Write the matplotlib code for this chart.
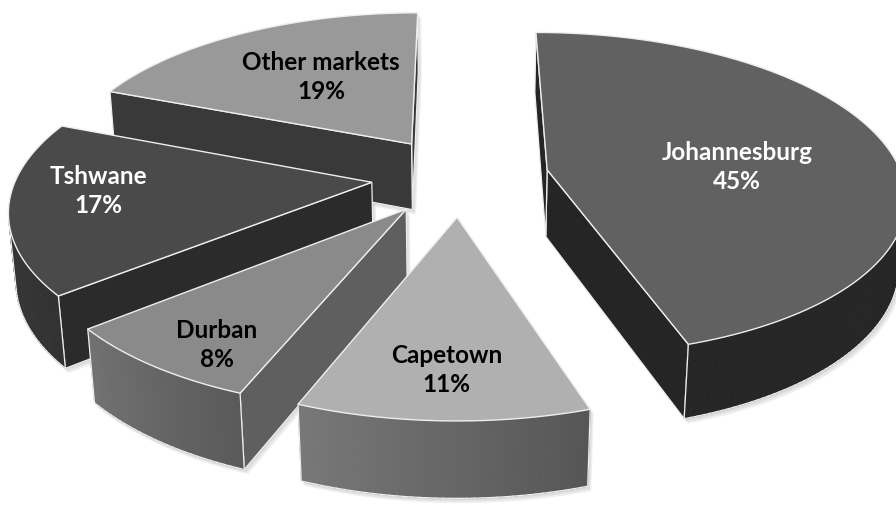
import numpy as np
import matplotlib
matplotlib.use('Agg')
import matplotlib.pyplot as plt
from matplotlib.patches import Polygon

# data
markets = ['Johannesburg', 'Capetown', 'Durban', 'Tshwane', 'Other markets']
shares = [45, 11, 8, 17, 19]

# grey styling per slice
top_colors = ['#616161', '#b0b0b0', '#8a8a8a', '#4a4a4a', '#999999']
side_light = ['#262626', '#787878', '#727272', '#3c3c3c', '#3a3a3a']
side_dark = ['#242424', '#565656', '#5a5a5a', '#323232', '#383838']
radial_colors = ['#252525', '#6a6a6a', '#5f5f5f', '#2b2b2b', '#393939']
text_colors = ['white', 'black', 'black', 'white', 'black']
label_r = [0.54, 0.78, 0.84, 0.76, 0.56]
label_da = [-7, 0, 4, -5, -3]

# camera / pie geometry (pie radius = 1)
elev = np.radians(26.7)
dist = 6.0
focal = 2130
cx, cy = 460, 176
explode = 0.25
depth = 0.215
edge = '#eeeeee'

sin_e, cos_e = np.sin(elev), np.cos(elev)


def project(x, y, z):
    yc = y * sin_e + z * cos_e
    zc = -y * cos_e + z * sin_e
    w = dist - zc
    return cx + focal * x / w, cy - focal * yc / w


def facing(pts):
    # signed area with screen y flipped up -> positive means facing camera
    xs = np.array([p[0] for p in pts])
    ys = -np.array([p[1] for p in pts])
    return 0.5 * np.sum(xs * np.roll(ys, -1) - np.roll(xs, -1) * ys) > 0


def hull(pts):
    pts = sorted(set(pts))

    def cross(o, a, b):
        return (a[0] - o[0]) * (b[1] - o[1]) - (a[1] - o[1]) * (b[0] - o[0])
    lower, upper = [], []
    for p in pts:
        while len(lower) >= 2 and cross(lower[-2], lower[-1], p) <= 0:
            lower.pop()
        lower.append(p)
    for p in reversed(pts):
        while len(upper) >= 2 and cross(upper[-2], upper[-1], p) <= 0:
            upper.pop()
        upper.append(p)
    return lower[:-1] + upper[:-1]


def mix(c1, c2, t):
    a = np.array(matplotlib.colors.to_rgb(c1))
    b = np.array(matplotlib.colors.to_rgb(c2))
    return tuple(a * (1 - t) + b * t)


fig = plt.figure(figsize=(8.96, 5.11), dpi=100)
ax = fig.add_axes([0, 0, 1, 1])
ax.set_xlim(0, 896)
ax.set_ylim(511, 0)
ax.axis('off')

# slice angles, clockwise from 12 o'clock
slices = []
start = 90.0
for i, v in enumerate(shares):
    a1 = start
    a0 = start - 360.0 * v / sum(shares)
    start = a0
    mid = np.radians((a0 + a1) / 2)
    ox, oy = explode * np.cos(mid), explode * np.sin(mid)
    slices.append((i, a0, a1, ox, oy))

# far slices first
slices.sort(key=lambda s: -s[4])

for i, a0, a1, ox, oy in slices:
    ang = np.radians(np.linspace(a0, a1, max(10, int(a1 - a0))))
    rt = [project(ox + np.cos(a), oy + np.sin(a), 0) for a in ang]
    rb = [project(ox + np.cos(a), oy + np.sin(a), -depth) for a in ang]
    at = project(ox, oy, 0)
    ab = project(ox, oy, -depth)

    # soft drop shadow
    outline = hull([tuple(p) for p in rt + rb + [at, ab]])
    for k in (1, 2, 3):
        ax.add_patch(Polygon([(x + 1.2 * k, y + 1.6 * k) for x, y in outline], closed=True,
                             facecolor='#888888', edgecolor='none', alpha=0.12, zorder=0.5))

    # radial faces
    for face in ([at, ab, rb[0], rt[0]], [rt[-1], rb[-1], ab, at]):
        if facing(face):
            ax.add_patch(Polygon(face, closed=True, facecolor=radial_colors[i],
                                 edgecolor=edge, lw=0.9, zorder=1))

    # outer wall
    vis = []
    for k in range(len(ang) - 1):
        quad = [rt[k], rb[k], rb[k + 1], rt[k + 1]]
        ok = facing(quad)
        vis.append(ok)
        if ok:
            t = k / (len(ang) - 2)
            col = mix(side_light[i], side_dark[i], t)
            ax.add_patch(Polygon(quad, closed=True, facecolor=col,
                                 edgecolor=col, lw=0.6, zorder=1))
            ax.plot([rb[k][0], rb[k + 1][0]], [rb[k][1], rb[k + 1][1]],
                    color=edge, lw=0.9, zorder=2)
    for k in range(len(vis)):
        prev = vis[k - 1] if k > 0 else False
        if vis[k] and not prev:
            ax.plot([rt[k][0], rb[k][0]], [rt[k][1], rb[k][1]], color=edge, lw=0.9, zorder=2)
        nxt = vis[k + 1] if k + 1 < len(vis) else False
        if vis[k] and not nxt:
            ax.plot([rt[k + 1][0], rb[k + 1][0]], [rt[k + 1][1], rb[k + 1][1]],
                    color=edge, lw=0.9, zorder=2)

    # top face
    ax.add_patch(Polygon([at] + rt, closed=True, facecolor=top_colors[i],
                         edgecolor=edge, lw=1.0, zorder=2))

    # label
    la = np.radians((a0 + a1) / 2 + label_da[i])
    lx, ly = project(ox + label_r[i] * np.cos(la), oy + label_r[i] * np.sin(la), 0)
    ax.text(lx, ly, f'{markets[i]}\n{shares[i]}%', ha='center', va='center',
            fontsize=17.5, fontweight='bold', family=['Lato', 'DejaVu Sans'],
            color=text_colors[i], linespacing=1.3, zorder=3)

fig.savefig('out.png', dpi=100, facecolor='white')
